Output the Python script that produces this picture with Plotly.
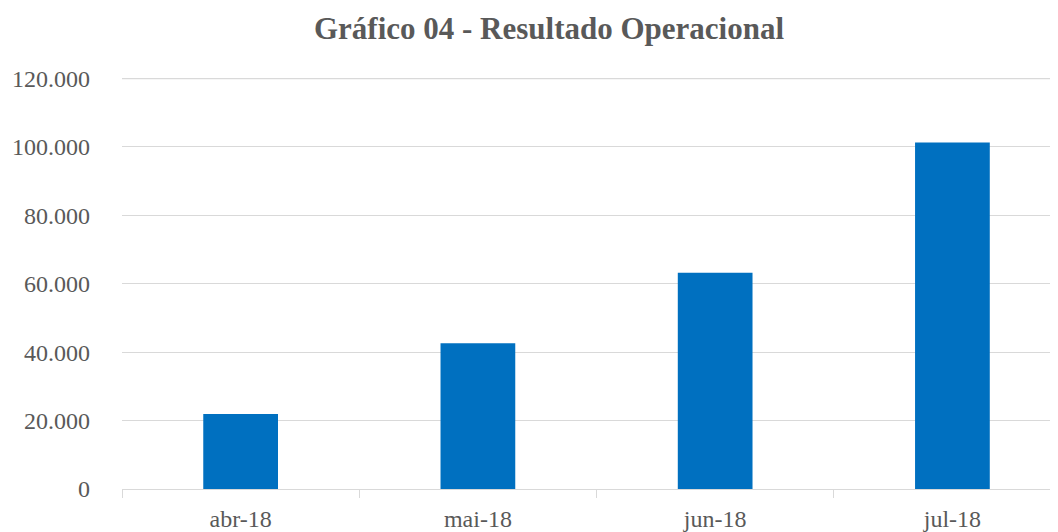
import plotly.graph_objects as go

categories = ["abr-18", "mai-18", "jun-18", "jul-18"]
values = [21900, 42600, 63200, 101300]
y_ticks = [0, 20000, 40000, 60000, 80000, 100000, 120000]

# page body has an 8px margin, so the figure is offset by 8px
OFF = 8
W, H = 1058 - OFF, 532 - OFF

fig = go.Figure()
fig.add_trace(go.Bar(
    x=categories, y=values,
    marker=dict(color="#0070C0", line=dict(width=0)),
    width=0.315,
))

font_family = "Liberation Serif, DejaVu Serif, serif"
fig.update_layout(
    width=W, height=H,
    margin=dict(l=122 - OFF, r=0, t=78 - OFF, b=532 - 489),
    paper_bgcolor="white", plot_bgcolor="white",
    separators=",.",
    showlegend=False,
    title=dict(
        text="<b>Gráfico 04 - Resultado Operacional</b>",
        x=(549 - OFF) / W, xanchor="center", xref="container",
        y=1 - (28 - OFF) / H, yanchor="middle", yref="container",
        font=dict(family=font_family, size=31, color="#595959"),
    ),
    font=dict(family=font_family, size=24, color="#595959"),
)
fig.update_yaxes(
    range=[0, 120150], tickvals=y_ticks, tickformat=",d",
    showgrid=True, gridcolor="#D9D9D9", gridwidth=1.3,
    zeroline=True, zerolinecolor="#D9D9D9", zerolinewidth=1.3,
    showline=False, ticks="", ticklabelstandoff=31,
    tickfont=dict(family=font_family, size=24, color="#595959"),
)
fig.update_xaxes(
    type="category", range=[-0.5, 3.445],
    showline=True, linecolor="#D9D9D9", linewidth=1.3,
    ticks="outside", tickson="boundaries", ticklen=8, tickcolor="#D9D9D9", tickwidth=1.3,
    showgrid=False, ticklabelstandoff=8,
    tickfont=dict(family=font_family, size=24, color="#595959"),
)
# top gridline (plotly drops the grid line at the range edge)
fig.add_shape(type="line", xref="paper", x0=0, x1=1, yref="y",
              y0=y_ticks[-1], y1=y_ticks[-1],
              line=dict(color="#D9D9D9", width=1.3), layer="below")

fig.write_html("out.html")
